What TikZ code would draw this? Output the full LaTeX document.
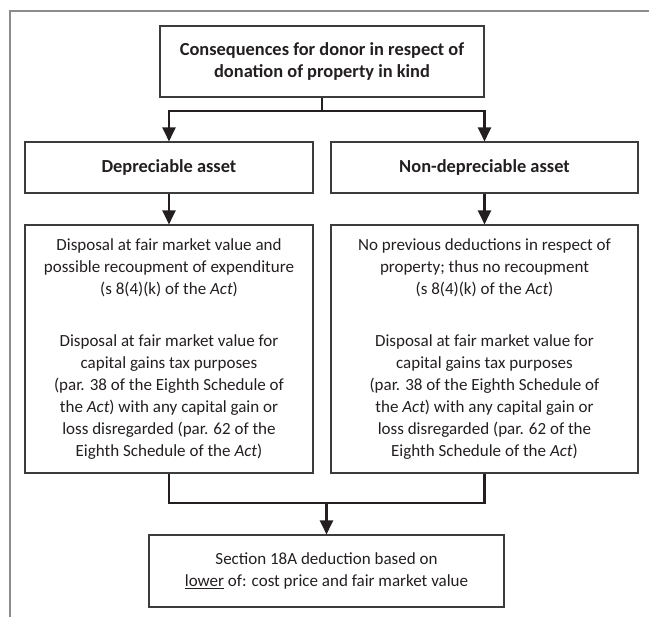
\documentclass[tikz,border=0pt]{standalone}
\usepackage{fontspec}
\setmainfont{Carlito}
\usetikzlibrary{arrows.meta}
\definecolor{ink}{HTML}{231F20}
\definecolor{edge}{HTML}{3C3C3C}
\definecolor{frame}{HTML}{8C8C8C}
\tikzset{>={Triangle[length=14pt,width=13pt]},
  box/.style={draw=edge,line width=1.1pt,text=ink,align=center,inner sep=0pt,
    font=\fontsize{17}{22}\selectfont},
  head/.style={box,font=\fontsize{18.4}{22}\selectfont\bfseries},
  link/.style={draw=ink,line width=2.2pt},
  arr/.style={link,->}}

\begin{document}
\begin{tikzpicture}[x=1pt,y=-1pt]
\useasboundingbox (0,0) rectangle (649,617);
\draw [frame,line width=1.3pt] (10,617) -- (10,11) -- (649,11);
\node [head,minimum width=324pt,minimum height=71pt] (top) at (322,61.5) {Consequences for donor in respect of\\ donation of property in kind};
\node [head,minimum width=288pt,minimum height=51pt] (dep) at (169,167.5) {Depreciable asset};
\node [head,minimum width=307pt,minimum height=51pt] (nondep) at (484.5,167.5) {Non-depreciable asset};
\node [box,minimum width=288pt,minimum height=248pt] (depd) at (169,349) {Disposal at fair market value and\\ possible recoupment of expenditure\\ (s 8(4)(k) of the \textit{Act})\\[30pt] Disposal at fair market value for\\ capital gains tax purposes\\ (par. 38 of the Eighth Schedule of\\ the \textit{Act}) with any capital gain or\\ loss disregarded (par. 62 of the\\ Eighth Schedule of the \textit{Act})};
\node [box,minimum width=307pt,minimum height=248pt] (nondepd) at (484.5,349) {No previous deductions in respect of\\ property; thus no recoupment\\ (s 8(4)(k) of the \textit{Act})\\[30pt] Disposal at fair market value for\\ capital gains tax purposes\\ (par. 38 of the Eighth Schedule of\\ the \textit{Act}) with any capital gain or\\ loss disregarded (par. 62 of the\\ Eighth Schedule of the \textit{Act})};
\node [box,minimum width=355pt,minimum height=72pt] (ded) at (326.5,571) {Section 18A deduction based on\\ \underline{lower} of: cost price and fair market value};
\coordinate (split) at (322,111);
\coordinate (merge) at (326.5,503);
\draw [link] (top.south) -- (split);
\draw [arr] (split) -| (dep.north);
\draw [arr] (split) -| (nondep.north);
\draw [arr] (dep) -- (depd);
\draw [arr] (nondep) -- (nondepd);
\draw [link] (depd.south) |- (merge) -| (nondepd.south);
\draw [arr] (merge) -- (ded);
\end{tikzpicture}
\end{document}
